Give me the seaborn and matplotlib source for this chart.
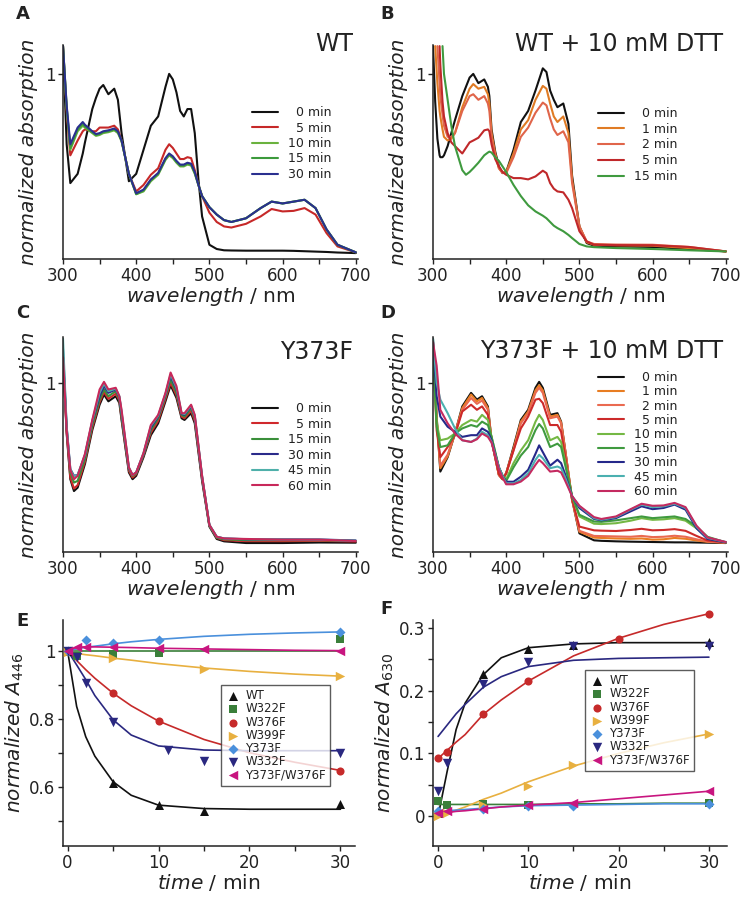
import numpy as np
import matplotlib
matplotlib.use("Agg")
import matplotlib.pyplot as plt
import seaborn as sns

sns.set_style("ticks")
plt.rcParams["font.family"] = ["DejaVu Sans"]
plt.rcParams["mathtext.fontset"] = "dejavusans"
plt.rcParams["text.color"] = "#222222"
plt.rcParams["axes.labelcolor"] = "#222222"
plt.rcParams["xtick.color"] = "#222222"
plt.rcParams["ytick.color"] = "#222222"

nan = np.nan

# ---------------------------------------------------
# Panel A: WT
# ---------------------------------------------------
wl_a = [300, 305, 310, 320, 327, 330, 340, 345, 350, 355, 362, 370, 375, 380, 390,
        400, 410, 420, 430, 440, 445, 450, 455, 460, 465, 470, 475, 480, 485, 490,
        500, 510, 520, 530, 550, 570, 585, 600, 615, 630, 645, 660, 675, 700]
a_0 = [1.15, 0.62, 0.41, 0.46, 0.57, 0.63, 0.81, 0.87, 0.92, 0.94, 0.89, 0.92, 0.86, 0.68, 0.42,
       0.46, 0.59, 0.72, 0.77, 0.93, 1.0, 0.97, 0.90, 0.80, 0.77, 0.81, 0.81, 0.68, 0.43, 0.23,
       0.077, 0.054, 0.047, 0.046, 0.045, 0.045, 0.045, 0.045, 0.044, 0.042, 0.04, 0.038, 0.035, 0.032]
a_5 = [1.15, 0.80, 0.56, 0.64, 0.69, 0.70, 0.69, 0.69, 0.71, 0.71, 0.71, 0.72, 0.70, 0.64, 0.46,
       0.365, 0.40, 0.455, 0.49, 0.59, 0.62, 0.60, 0.57, 0.54, 0.54, 0.55, 0.545, 0.48, 0.40, 0.34,
       0.25, 0.20, 0.176, 0.17, 0.19, 0.23, 0.27, 0.257, 0.26, 0.275, 0.24, 0.14, 0.068, 0.036]
a_10 = [1.15, 0.82, 0.59, 0.69, 0.72, 0.71, 0.68, 0.665, 0.67, 0.68, 0.685, 0.695, 0.68, 0.635, 0.46,
        0.35, 0.365, 0.42, 0.455, 0.535, 0.56, 0.545, 0.52, 0.50, 0.50, 0.51, 0.505, 0.46, 0.40, 0.34,
        0.28, 0.24, 0.21, 0.20, 0.22, 0.275, 0.31, 0.30, 0.31, 0.32, 0.275, 0.16, 0.077, 0.036]
a_15 = [1.15, 0.82, 0.60, 0.70, 0.73, 0.715, 0.685, 0.67, 0.675, 0.685, 0.69, 0.70, 0.685, 0.64, 0.46,
        0.35, 0.37, 0.425, 0.46, 0.54, 0.565, 0.55, 0.525, 0.505, 0.505, 0.515, 0.51, 0.465, 0.40, 0.34,
        0.28, 0.24, 0.21, 0.20, 0.22, 0.275, 0.31, 0.30, 0.31, 0.32, 0.275, 0.16, 0.077, 0.036]
a_30 = [1.15, 0.83, 0.62, 0.71, 0.74, 0.725, 0.69, 0.675, 0.68, 0.69, 0.695, 0.705, 0.69, 0.64, 0.46,
        0.355, 0.375, 0.43, 0.465, 0.545, 0.57, 0.555, 0.53, 0.51, 0.51, 0.52, 0.515, 0.47, 0.40, 0.34,
        0.28, 0.24, 0.21, 0.20, 0.22, 0.275, 0.31, 0.30, 0.31, 0.32, 0.275, 0.16, 0.077, 0.036]

# ---------------------------------------------------
# Panel B: WT + 10 mM DTT
# ---------------------------------------------------
wl_b = [300, 303, 306, 309, 310, 313, 315, 320, 325, 330, 340, 345, 350, 355, 362, 370, 375, 377,
        380, 385, 390, 395, 400, 410, 420, 430, 440, 450, 455, 460, 465, 470, 478, 485, 490,
        500, 510, 520, 550, 600, 650, 700]
b_0 = [1.15, 0.85, 0.65, 0.56, 0.55, 0.55, 0.56, 0.61, 0.68, 0.75, 0.88, 0.93, 0.98, 1.0, 0.95, 0.97, 0.93, 0.88,
       0.70, 0.58, 0.50, 0.464, 0.47, 0.59, 0.74, 0.80, 0.91, 1.03, 1.01, 0.91, 0.86, 0.82, 0.84, 0.73, 0.45,
       0.176, 0.086, 0.072, 0.068, 0.065, 0.054, 0.041]
b_1 = [nan, 1.15, 0.95, 0.80, 0.77, 0.70, 0.66, 0.64, 0.65, 0.68, 0.82, 0.87, 0.92, 0.945, 0.92, 0.93, 0.89, 0.84,
       0.68, 0.57, 0.49, 0.466, 0.47, 0.57, 0.70, 0.75, 0.86, 0.935, 0.92, 0.84, 0.77, 0.74, 0.77, 0.68, 0.43,
       0.176, 0.09, 0.077, 0.074, 0.072, 0.059, 0.041]
b_2 = [nan, nan, 1.15, 0.95, 0.88, 0.78, 0.72, 0.66, 0.66, 0.68, 0.80, 0.84, 0.88, 0.89, 0.86, 0.88, 0.84, 0.80,
       0.66, 0.56, 0.49, 0.465, 0.464, 0.55, 0.66, 0.71, 0.79, 0.845, 0.83, 0.76, 0.70, 0.67, 0.69, 0.63, 0.41,
       0.176, 0.095, 0.081, 0.078, 0.077, 0.065, 0.041]
b_5 = [nan, nan, nan, 1.15, 1.05, 0.85, 0.77, 0.68, 0.63, 0.61, 0.57, 0.60, 0.63, 0.64, 0.655, 0.695, 0.70, 0.69,
       0.62, 0.54, 0.50, 0.47, 0.455, 0.437, 0.437, 0.43, 0.446, 0.477, 0.464, 0.41, 0.38, 0.365, 0.36, 0.32, 0.275,
       0.15, 0.095, 0.077, 0.075, 0.074, 0.065, 0.041]
b_15 = [nan, nan, nan, nan, nan, 1.15, 1.0, 0.86, 0.72, 0.61, 0.48, 0.455, 0.47, 0.49, 0.52, 0.56, 0.575, 0.58,
        0.575, 0.55, 0.53, 0.50, 0.47, 0.40, 0.34, 0.29, 0.257, 0.234, 0.22, 0.20, 0.18, 0.167, 0.15, 0.13, 0.113,
        0.081, 0.068, 0.064, 0.059, 0.054, 0.047, 0.041]

# ---------------------------------------------------
# Panel C: Y373F
# ---------------------------------------------------
wl_c = [300, 305, 310, 315, 320, 330, 340, 350, 356, 362, 372, 377, 380, 390, 395, 400, 410, 420,
        430, 440, 447, 455, 462, 466, 475, 480, 490, 500, 510, 520, 550, 600, 650, 700]
c_0 = [1.15, 0.70, 0.43, 0.36, 0.38, 0.52, 0.72, 0.87, 0.93, 0.89, 0.92, 0.88, 0.78, 0.47, 0.43, 0.45, 0.56, 0.69,
       0.76, 0.89, 0.985, 0.91, 0.79, 0.78, 0.82, 0.76, 0.42, 0.15, 0.077, 0.063, 0.053, 0.053, 0.056, 0.055]
c_5 = [1.15, 0.71, 0.44, 0.375, 0.395, 0.535, 0.735, 0.885, 0.945, 0.905, 0.935, 0.895, 0.79, 0.48, 0.44, 0.46, 0.57, 0.705,
       0.775, 0.905, 1.0, 0.925, 0.80, 0.79, 0.835, 0.775, 0.43, 0.155, 0.083, 0.07, 0.064, 0.064, 0.066, 0.062]
c_15 = [1.15, 0.73, 0.47, 0.41, 0.42, 0.55, 0.75, 0.90, 0.96, 0.92, 0.95, 0.905, 0.80, 0.49, 0.45, 0.465, 0.575, 0.72,
        0.79, 0.92, 1.02, 0.94, 0.81, 0.80, 0.85, 0.79, 0.44, 0.155, 0.085, 0.075, 0.07, 0.07, 0.07, 0.066]
c_30 = [1.20, 0.74, 0.49, 0.45, 0.455, 0.57, 0.77, 0.92, 0.98, 0.94, 0.96, 0.915, 0.82, 0.495, 0.455, 0.47, 0.58, 0.735,
        0.80, 0.93, 1.04, 0.96, 0.815, 0.81, 0.86, 0.80, 0.445, 0.16, 0.09, 0.08, 0.075, 0.075, 0.074, 0.068]
c_45 = [1.26, 0.74, 0.49, 0.445, 0.455, 0.575, 0.775, 0.94, 0.995, 0.95, 0.965, 0.92, 0.83, 0.50, 0.455, 0.47, 0.585, 0.745,
        0.805, 0.935, 1.05, 0.97, 0.82, 0.815, 0.865, 0.805, 0.45, 0.16, 0.09, 0.08, 0.076, 0.074, 0.073, 0.066]
c_60 = [1.15, 0.72, 0.485, 0.43, 0.45, 0.58, 0.78, 0.96, 1.005, 0.96, 0.97, 0.92, 0.84, 0.50, 0.455, 0.47, 0.585, 0.75,
        0.81, 0.94, 1.06, 0.98, 0.82, 0.82, 0.87, 0.81, 0.45, 0.16, 0.09, 0.08, 0.077, 0.073, 0.073, 0.065]

# ---------------------------------------------------
# Panel D: Y373F + 10 mM DTT
# ---------------------------------------------------
wl_d = [300, 305, 310, 320, 330, 340, 352, 360, 367, 375, 380, 390, 395, 400, 410, 420, 430, 440, 445,
        450, 460, 470, 475, 480, 490, 500, 520, 530, 550, 570, 585, 600, 615, 630, 645, 660, 675, 700]
d_0 = [1.26, 0.80, 0.475, 0.56, 0.70, 0.86, 0.94, 0.90, 0.92, 0.86, 0.66, 0.455, 0.43, 0.465, 0.62, 0.78, 0.84, 0.97, 1.005,
       0.97, 0.81, 0.82, 0.77, 0.62, 0.31, 0.11, 0.069, 0.066, 0.063, 0.061, 0.06, 0.059, 0.058, 0.057, 0.057, 0.056, 0.055, 0.053]
d_1 = [1.24, 0.79, 0.495, 0.565, 0.70, 0.85, 0.93, 0.89, 0.91, 0.85, 0.66, 0.455, 0.43, 0.465, 0.61, 0.77, 0.83, 0.955, 0.985,
       0.955, 0.80, 0.81, 0.765, 0.62, 0.31, 0.12, 0.085, 0.083, 0.08, 0.078, 0.08, 0.073, 0.075, 0.083, 0.078, 0.068, 0.06, 0.055]
d_2 = [1.22, 0.78, 0.51, 0.575, 0.70, 0.84, 0.91, 0.875, 0.895, 0.84, 0.66, 0.455, 0.43, 0.465, 0.60, 0.76, 0.82, 0.94, 0.97,
       0.94, 0.79, 0.80, 0.76, 0.615, 0.31, 0.125, 0.095, 0.094, 0.092, 0.09, 0.095, 0.088, 0.09, 0.096, 0.09, 0.075, 0.062, 0.055]
d_5 = [1.20, 0.72, 0.56, 0.62, 0.69, 0.83, 0.87, 0.84, 0.86, 0.81, 0.66, 0.46, 0.43, 0.465, 0.60, 0.73, 0.80, 0.90, 0.905,
       0.88, 0.75, 0.75, 0.71, 0.58, 0.31, 0.15, 0.128, 0.126, 0.124, 0.13, 0.137, 0.128, 0.13, 0.135, 0.125, 0.095, 0.068, 0.057]
d_10 = [1.18, 0.76, 0.66, 0.67, 0.70, 0.75, 0.78, 0.77, 0.81, 0.78, 0.68, 0.50, 0.45, 0.43, 0.525, 0.60, 0.66, 0.77, 0.81,
        0.78, 0.66, 0.68, 0.65, 0.545, 0.33, 0.21, 0.167, 0.165, 0.17, 0.185, 0.20, 0.19, 0.193, 0.20, 0.185, 0.14, 0.085, 0.057]
d_15 = [1.20, 0.74, 0.62, 0.63, 0.70, 0.73, 0.75, 0.74, 0.77, 0.75, 0.68, 0.50, 0.45, 0.42, 0.50, 0.57, 0.62, 0.72, 0.756,
        0.73, 0.62, 0.64, 0.62, 0.525, 0.33, 0.22, 0.18, 0.178, 0.187, 0.20, 0.21, 0.20, 0.205, 0.21, 0.195, 0.15, 0.09, 0.057]
d_30 = [1.24, 0.92, 0.80, 0.74, 0.71, 0.68, 0.69, 0.69, 0.73, 0.71, 0.66, 0.50, 0.45, 0.415, 0.415, 0.445, 0.485, 0.58, 0.63,
        0.59, 0.51, 0.545, 0.525, 0.465, 0.33, 0.26, 0.195, 0.187, 0.20, 0.24, 0.27, 0.253, 0.26, 0.28, 0.25, 0.14, 0.077, 0.057]
d_45 = [1.26, 1.0, 0.90, 0.82, 0.73, 0.66, 0.65, 0.67, 0.71, 0.69, 0.65, 0.50, 0.45, 0.405, 0.405, 0.426, 0.465, 0.544, 0.574,
        0.554, 0.495, 0.505, 0.495, 0.446, 0.33, 0.27, 0.20, 0.19, 0.206, 0.25, 0.28, 0.265, 0.27, 0.285, 0.26, 0.15, 0.083, 0.059]
d_60 = [1.24, 1.10, 0.84, 0.76, 0.70, 0.66, 0.65, 0.666, 0.70, 0.68, 0.646, 0.49, 0.44, 0.40, 0.40, 0.416, 0.45, 0.515, 0.544,
        0.525, 0.475, 0.48, 0.47, 0.426, 0.33, 0.273, 0.206, 0.195, 0.21, 0.253, 0.285, 0.273, 0.275, 0.29, 0.265, 0.155, 0.086, 0.059]

# ---------------------------------------------------
# Panels E / F: kinetics
# ---------------------------------------------------
mutants = ["WT", "W322F", "W376F", "W399F", "Y373F", "W332F", "Y373F/W376F"]
mut_colors = ["#111111", "#3a7f3a", "#c62a2a", "#e8b040", "#4a90dc", "#2a2880", "#c8157f"]
mut_markers = ["^", "s", "o", ">", "D", "v", "<"]
mut_sizes = [42, 30, 34, 46, 26, 46, 46]

t_fit = [0, 1, 2, 3, 5, 7, 10, 15, 20, 25, 30]

e_t = [[0, 5, 10, 15, 30], [0, 1, 5, 10, 30], [0, 5, 10, 30], [0, 5, 15, 30],
       [0, 2, 5, 10, 30], [0, 1, 2, 5, 11, 15, 30], [0, 1, 2, 5, 10, 15, 30]]
e_wt = [1.0, 0.61, 0.545, 0.53, 0.55]
e_w322f = [1.0, 0.985, 0.99, 0.993, 1.035]
e_w376f = [1.0, 0.875, 0.793, 0.647]
e_w399f = [0.995, 0.978, 0.947, 0.925]
e_y373f = [1.0, 1.032, 1.022, 1.03, 1.055]
e_w332f = [1.0, 0.98, 0.905, 0.789, 0.708, 0.677, 0.70]
e_double = [1.0, 1.01, 1.012, 1.01, 1.007, 1.005, 1.0]

e_fit_wt = [1.0, 0.836, 0.747, 0.69, 0.615, 0.575, 0.546, 0.536, 0.534, 0.534, 0.534]
e_fit_w322f = [1.0, 1.0, 1.0, 1.0, 1.0, 1.0, 1.0, 1.0, 1.0, 1.0, 1.0]
e_fit_w376f = [1.0, 0.971, 0.944, 0.919, 0.875, 0.838, 0.793, 0.739, 0.70, 0.672, 0.648]
e_fit_w399f = [0.995, 0.992, 0.988, 0.985, 0.978, 0.972, 0.962, 0.949, 0.939, 0.931, 0.925]
e_fit_y373f = [1.0, 1.005, 1.01, 1.013, 1.02, 1.026, 1.033, 1.042, 1.048, 1.052, 1.055]
e_fit_w332f = [1.0, 0.958, 0.915, 0.868, 0.797, 0.752, 0.72, 0.708, 0.706, 0.706, 0.706]
e_fit_double = [1.0, 1.01, 1.011, 1.011, 1.01, 1.009, 1.007, 1.005, 1.003, 1.001, 1.0]

f_t = [[0, 5, 10, 15, 30], [0, 1, 5, 10, 30], [0, 1, 5, 10, 20, 30], [0, 1, 5, 10, 15, 30],
       [0, 5, 10, 15, 30], [0, 1, 5, 10, 15, 30], [0, 1, 5, 10, 15, 30]]
f_wt = [0.005, 0.227, 0.266, 0.272, 0.277]
f_w322f = [0.025, 0.018, 0.02, 0.018, 0.022]
f_w376f = [0.092, 0.103, 0.162, 0.215, 0.282, 0.322]
f_w399f = [0.0, 0.005, 0.018, 0.049, 0.082, 0.131]
f_y373f = [0.008, 0.012, 0.016, 0.017, 0.02]
f_w332f = [0.04, 0.085, 0.21, 0.245, 0.27, 0.27]
f_double = [0.005, 0.008, 0.012, 0.018, 0.022, 0.04]

f_fit_wt = [0.0, 0.071, 0.138, 0.18, 0.225, 0.252, 0.268, 0.274, 0.276, 0.276, 0.276]
f_fit_w322f = [0.019, 0.019, 0.019, 0.019, 0.019, 0.019, 0.019, 0.02, 0.02, 0.021, 0.021]
f_fit_w376f = [0.092, 0.105, 0.118, 0.13, 0.162, 0.185, 0.215, 0.255, 0.283, 0.305, 0.322]
f_fit_w399f = [0.0, 0.005, 0.01, 0.015, 0.027, 0.037, 0.055, 0.08, 0.1, 0.117, 0.131]
f_fit_y373f = [0.008, 0.009, 0.01, 0.011, 0.013, 0.015, 0.017, 0.018, 0.019, 0.02, 0.02]
f_fit_w332f = [0.127, 0.145, 0.163, 0.178, 0.205, 0.222, 0.238, 0.248, 0.251, 0.252, 0.253]
f_fit_double = [0.005, 0.006, 0.008, 0.009, 0.012, 0.015, 0.018, 0.022, 0.028, 0.034, 0.04]


W, H = 741, 899
fig = plt.figure(figsize=(W / 100, H / 100), dpi=100)


def px_axes(left, top, right, bottom):
    return fig.add_axes([left / W, 1 - bottom / H, (right - left) / W, (bottom - top) / H])


def style_axes(ax):
    sns.despine(ax=ax)
    ax.tick_params(direction="out", length=3.5, width=1, labelsize=12, pad=2)
    for s in ["left", "bottom"]:
        ax.spines[s].set_linewidth(1.1)
        ax.spines[s].set_color("#222222")


def spectra_panel(ax, wl, curves, labels, colors, title, title_xy, ymax, leg_xy, spacing):
    for vals, lab, col in zip(curves, labels, colors):
        sns.lineplot(x=wl, y=vals, color=col, lw=1.5, label=lab, ax=ax,
                     estimator=None, sort=False)
    ax.set_xlim(300, 703)
    ax.set_ylim(0, ymax)
    ax.set_xticks(range(300, 701, 50))
    ax.set_xticklabels(["300", "", "400", "", "500", "", "600", "", "700"])
    ax.set_yticks([1])
    ax.set_yticklabels(["1"])
    style_axes(ax)
    ax.set_xlabel(r"$\mathit{wavelength}$ / nm", fontsize=14.5, labelpad=0)
    ax.set_ylabel("normalized absorption", fontstyle="italic", fontsize=14.5, labelpad=5)
    fig.text(title_xy[0] / W, 1 - title_xy[1] / H, title, ha="right", va="center",
             fontsize=17)
    ax.legend(loc="upper left", bbox_to_anchor=(leg_xy[0] / W, 1 - leg_xy[1] / H),
              bbox_transform=fig.transFigure, frameon=False, fontsize=9,
              handlelength=2.1, handletextpad=0.8, labelspacing=spacing,
              borderpad=0, borderaxespad=0)


def fmt_min(m):
    return ("\u2007" if m < 10 else "") + f"{m} min"


# A
ax_a = px_axes(63, 45, 358, 259)
spectra_panel(ax_a, wl_a, [a_0, a_5, a_10, a_15, a_30],
              [fmt_min(m) for m in [0, 5, 10, 15, 30]],
              ["#111111", "#c62828", "#6ab23e", "#3c9a3c", "#2a2f8f"],
              "WT", (353, 44), 1.156, (252, 106), 0.2)

# B
ax_b = px_axes(433, 45, 728, 259)
spectra_panel(ax_b, wl_b, [b_0, b_1, b_2, b_5, b_15],
              [fmt_min(m) for m in [0, 1, 2, 5, 15]],
              ["#111111", "#e07b24", "#e0654a", "#c0282a", "#3f9a3f"],
              "WT + 10 mM DTT", (723, 44), 1.156, (598, 107), 0.22)

# C
ax_c = px_axes(63, 337, 358, 552)
spectra_panel(ax_c, wl_c, [c_0, c_5, c_15, c_30, c_45, c_60],
              [fmt_min(m) for m in [0, 5, 15, 30, 45, 60]],
              ["#111111", "#d0282c", "#3a8f3a", "#2a2a8a", "#4fb0aa", "#c8285a"],
              "Y373F", (353, 352), 1.27, (252, 402), 0.2)

# D
ax_d = px_axes(433, 337, 728, 552)
spectra_panel(ax_d, wl_d, [d_0, d_1, d_2, d_5, d_10, d_15, d_30, d_45, d_60],
              [fmt_min(m) for m in [0, 1, 2, 5, 10, 15, 30, 45, 60]],
              ["#111111", "#e87d22", "#ea6a50", "#cc2a2a", "#74b844", "#3f9a3f",
               "#25288a", "#4bb0b0", "#c42a60"],
              "Y373F + 10 mM DTT", (723, 351), 1.27, (598, 371), 0.1)


def kinetics_panel(ax, times, pts, fits, ylim, leg_box):
    for t, v, fv, col, mk, sz, lab in zip(times, pts, fits, mut_colors,
                                           mut_markers, mut_sizes, mutants):
        sns.lineplot(x=t_fit, y=fv, color=col, lw=1.2, ax=ax, estimator=None,
                     sort=False, clip_on=False)
        sns.scatterplot(x=t, y=v, color=col, marker=mk, s=sz, linewidth=0, ax=ax,
                        label=lab, zorder=3, clip_on=False)
    ax.set_xlim(-0.5, 31.6)
    ax.set_ylim(*ylim)
    ax.set_xticks(range(0, 31, 5))
    ax.set_xticklabels(["0", "", "10", "", "20", "", "30"])
    style_axes(ax)
    ax.set_xlabel(r"$\mathit{time}$ / min", fontsize=14.5, labelpad=0)
    leg = ax.legend(loc="upper left", bbox_to_anchor=(leg_box[0] / W, 1 - leg_box[1] / H),
                    bbox_transform=fig.transFigure, frameon=True, fancybox=False,
                    fontsize=8.5, handletextpad=0.3, labelspacing=0.02,
                    borderpad=0.35, borderaxespad=0, handlelength=1.4)
    leg.get_frame().set_edgecolor("#333333")
    leg.get_frame().set_linewidth(1.0)


# E
ax_e = px_axes(63, 620, 355, 846)
kinetics_panel(ax_e, e_t,
               [e_wt, e_w322f, e_w376f, e_w399f, e_y373f, e_w332f, e_double],
               [e_fit_wt, e_fit_w322f, e_fit_w376f, e_fit_w399f, e_fit_y373f,
                e_fit_w332f, e_fit_double],
               (0.426, 1.09), (221, 685))
ax_e.set_yticks([0.5, 0.6, 0.7, 0.8, 0.9, 1.0])
ax_e.set_yticklabels(["", "0.6", "", "0.8", "", "1"])
ax_e.set_ylabel(r"$\mathit{normalized}$ $A_{446}$", fontsize=14.5, labelpad=2)

# F
ax_f = px_axes(433, 620, 727, 846)
kinetics_panel(ax_f, f_t,
               [f_wt, f_w322f, f_w376f, f_w399f, f_y373f, f_w332f, f_double],
               [f_fit_wt, f_fit_w322f, f_fit_w376f, f_fit_w399f, f_fit_y373f,
                f_fit_w332f, f_fit_double],
               (-0.047, 0.312), (585, 670))
ax_f.set_xlim(-0.56, 32)
ax_f.set_yticks([0, 0.05, 0.1, 0.15, 0.2, 0.25, 0.3])
ax_f.set_yticklabels(["0", "", "0.1", "", "0.2", "", "0.3"])
ax_f.set_ylabel(r"$\mathit{normalized}$ $A_{630}$", fontsize=14.5, labelpad=2)

# panel letters
for letter, x, y in [("A", 16, 5), ("B", 380, 5), ("C", 16, 304), ("D", 380, 304),
                     ("E", 16, 612), ("F", 380, 600)]:
    fig.text(x / W, 1 - y / H, letter, fontsize=13, fontweight="bold", va="top", ha="left")

fig.savefig("out.png", dpi=100)
